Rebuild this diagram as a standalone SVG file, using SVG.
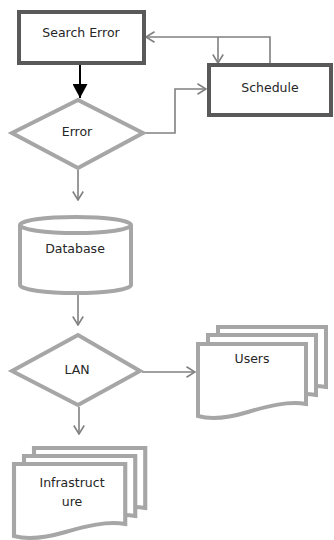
<svg xmlns="http://www.w3.org/2000/svg" width="334" height="540" viewBox="0 0 334 540">
  <style>
    .box { fill: #ffffff; stroke: #595959; stroke-width: 4; }
    .shape { fill: #ffffff; stroke: #a6a6a6; stroke-width: 4; stroke-linejoin: miter; }
    .label { font-family: "DejaVu Sans", "Liberation Sans", sans-serif; font-size: 12.5px; fill: #262626; text-anchor: middle; }
    .link { fill: none; stroke: #808080; stroke-width: 1.6; marker-end: url(#open); }
    .link-plain { fill: none; stroke: #808080; stroke-width: 1.6; }
    .link-main { fill: none; stroke: #000000; stroke-width: 2; marker-end: url(#solid); }
  </style>
  <defs>
    <marker id="open" viewBox="0 0 10 12" refX="9.5" refY="6" markerWidth="10" markerHeight="12" markerUnits="userSpaceOnUse" orient="auto">
      <path d="M1,0.8 L9.5,6 L1,11.2" fill="none" stroke="#808080" stroke-width="1.6"/>
    </marker>
    <marker id="solid" viewBox="0 0 14 15" refX="14" refY="7.5" markerWidth="14" markerHeight="15" markerUnits="userSpaceOnUse" orient="auto">
      <path d="M0,0 L14,7.5 L0,15 Z" fill="#000000"/>
    </marker>
    <!-- multi-document sheet: flat top, wavy bottom edge -->
    <path id="doc" d="M0,0 H108 V60 C90,57 70,62 50,68 C30,74 14,76 0,72 Z"/>
  </defs>

  <g id="connectors">
    <path class="link-main" d="M80,65 V98"/>
    <path class="link" d="M145,133 H175 V89 H206"/>
    <path class="link" d="M270,63 V37 H146"/>
    <path class="link" d="M218,37 V63"/>
    <path class="link" d="M78,170 V200"/>
    <path class="link" d="M78,295 V325"/>
    <path class="link" d="M142,372 H195"/>
    <path class="link" d="M79,407 V434"/>
  </g>

  <g id="search-error">
    <rect class="box" x="19" y="12" width="125" height="51"/>
    <text class="label" x="81" y="37">Search Error</text>
  </g>

  <g id="schedule">
    <rect class="box" x="209" y="65" width="122" height="50"/>
    <text class="label" x="270" y="92">Schedule</text>
  </g>

  <g id="error">
    <polygon class="shape" points="12,133 78,100 143,133 78,168"/>
    <text class="label" x="77" y="136">Error</text>
  </g>

  <g id="database">
    <path class="shape" d="M20,225 V285 A55.5,8 0 0 0 131,285 V225"/>
    <ellipse class="shape" cx="75.5" cy="225" rx="55.5" ry="8"/>
    <text class="label" x="75" y="253">Database</text>
  </g>

  <g id="lan">
    <polygon class="shape" points="12,371 78,335 140,371 78,405"/>
    <text class="label" x="77" y="374">LAN</text>
  </g>

  <g id="users">
    <use href="#doc" class="shape" transform="translate(218,327)"/>
    <use href="#doc" class="shape" transform="translate(208,335)"/>
    <use href="#doc" class="shape" transform="translate(198,344)"/>
    <text class="label" x="252" y="363">Users</text>
  </g>

  <g id="infrastructure">
    <use href="#doc" class="shape" transform="translate(34,448) scale(1.03,1)"/>
    <use href="#doc" class="shape" transform="translate(24,456) scale(1.03,1)"/>
    <use href="#doc" class="shape" transform="translate(14,464) scale(1.03,1)"/>
    <text class="label" x="72" y="487">Infrastruct</text>
    <text class="label" x="72" y="506">ure</text>
  </g>
</svg>
